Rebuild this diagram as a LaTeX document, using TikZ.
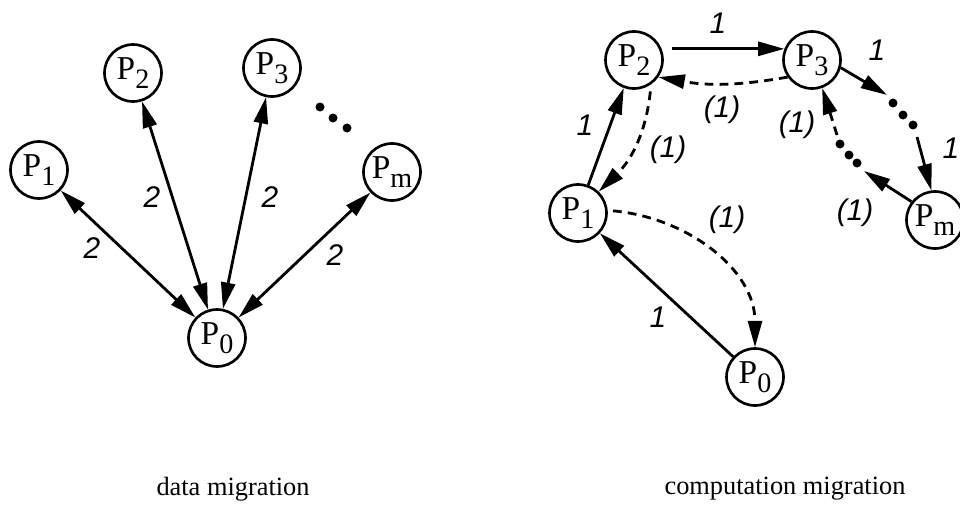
\documentclass[tikz,border=0pt]{standalone}
\usepackage{fontspec}
\setmainfont{Liberation Serif}
\newfontfamily\wtfont{Liberation Sans}
\newcommand\pname[1]{P\raisebox{-0.55ex}{\fontsize{16}{16}\selectfont #1}}
\usetikzlibrary{arrows.meta}
\begin{document}
\begin{tikzpicture}[x=0.2mm,y=-0.2mm,
        proc/.style={circle,draw,line width=1.5pt,minimum size=11.4mm,inner sep=0pt,font=\fontsize{19}{19}\selectfont},
        wt/.style={font=\wtfont\itshape\fontsize{17}{17}\selectfont},
        link/.style={line width=1.6pt,-{Triangle[length=15pt,width=8pt]}},
        twoway/.style={line width=1.6pt,{Triangle[length=15pt,width=8pt]}-{Triangle[length=15pt,width=8pt]}},
        back/.style={dashed,dash pattern=on 5pt off 3.5pt}]
        \useasboundingbox (0,0) rectangle (960,529);
        % data migration
        \node[proc] (l0) at (217,338) {\pname{0}};
        \foreach \n/\x/\y/\lx/\ly in {1/39/170/92/248, 2/133/73/152/197, 3/272/68/270/197, m/392/172/335/255} {
            \node[proc] (l\n) at (\x,\y) {\pname{\n}};
            \draw[twoway] (l\n) -- (l0);
            \node[wt] (lw\n) at (\lx,\ly) {2};
        }
        \foreach \x/\y in {320/107, 333/118, 347/128}
            \fill (\x,\y) circle (0.9mm);
        \node[font=\fontsize{15}{17}\selectfont] (lcap) at (233,489) {data migration};
        % computation migration
        \node[proc] (r0) at (755,377) {\pname{0}};
        \node[proc] (r1) at (578,213) {\pname{1}};
        \node[proc] (r2) at (634,60) {\pname{2}};
        \node[proc] (r3) at (812,60) {\pname{3}};
        \node[proc] (rm) at (935,220) {\pname{m}};
        \draw[link] (r0) -- (r1);
        \draw[link] (r1) -- (r2);
        \draw[link,shorten <=6pt] (r2.22) -- (r3.158);
        \draw[link,back] (r3.215) to[bend left=10] (r2.325);
        \draw[link,back,shorten <=4pt] (r2.305) to[bend left=20] (r1.46);
        \draw[link,back,shorten <=3pt] (r1.5) to[out=-5,in=90] (r0.north);
        \coordinate (a1) at (887,95);
        \coordinate (a2) at (917,137);
        \coordinate (b1) at (864,171);
        \coordinate (b2) at (837,135);
        \draw[link] (r3.-15) -- (a1);
        \draw[link] (a2) -- (rm.97);
        \draw[link] (rm.142) -- (b1);
        \draw[link,back] (b2) -- (r3.290);
        \foreach \x/\y in {893/103, 903/115, 913/125, 857/163, 849/155, 840/144}
            \fill (\x,\y) circle (0.9mm);
        \node[wt] (rw1) at (718,23) {1};
        \node[wt] (rw2) at (877,50) {1};
        \node[wt] (rw3) at (951,148) {1};
        \node[wt] (rw4) at (585,125) {1};
        \node[wt] (rw5) at (658,317) {1};
        \node[wt] (rw6) at (722,110) {(1)};
        \node[wt] (rw7) at (797,125) {(1)};
        \node[wt] (rw8) at (668,150) {(1)};
        \node[wt] (rw9) at (727,220) {(1)};
        \node[wt] (rw10) at (855,213) {(1)};
        \node[font=\fontsize{15}{17}\selectfont] (rcap) at (785,489) {computation migration};
    \end{tikzpicture}
\end{document}
